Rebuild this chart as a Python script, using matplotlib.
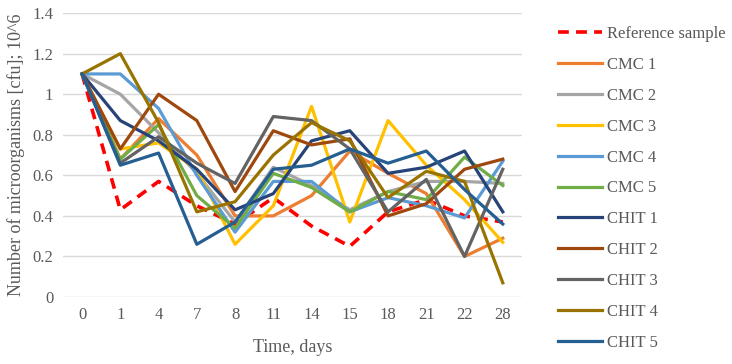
import matplotlib.pyplot as plt
import numpy as np

# dias de amostragem (eixo categórico)
dias = ["0", "1", "4", "7", "8", "11", "14", "15", "18", "21", "22", "28"]

referencia = [1.10, 0.43, 0.57, 0.45, 0.36, 0.49, 0.35, 0.25, 0.42, 0.48, 0.40, 0.37]
cmc1 = [1.10, 0.68, 0.88, 0.70, 0.40, 0.40, 0.50, 0.72, 0.61, 0.51, 0.20, 0.29]
cmc2 = [1.10, 1.00, 0.81, 0.61, 0.37, 0.64, 0.55, 0.43, 0.52, 0.57, 0.57, 0.56]
cmc3 = [1.10, 0.73, 0.76, 0.63, 0.26, 0.45, 0.94, 0.37, 0.87, 0.65, 0.48, 0.27]
cmc4 = [1.10, 1.10, 0.93, 0.60, 0.32, 0.57, 0.57, 0.42, 0.49, 0.45, 0.39, 0.67]
cmc5 = [1.10, 0.68, 0.85, 0.50, 0.34, 0.61, 0.54, 0.42, 0.52, 0.48, 0.69, 0.55]
chit1 = [1.10, 0.87, 0.77, 0.63, 0.43, 0.51, 0.77, 0.82, 0.61, 0.64, 0.72, 0.42]
chit2 = [1.10, 0.73, 1.00, 0.87, 0.52, 0.82, 0.75, 0.78, 0.40, 0.46, 0.63, 0.68]
chit3 = [1.10, 0.66, 0.79, 0.66, 0.56, 0.89, 0.87, 0.73, 0.42, 0.58, 0.20, 0.63]
chit4 = [1.10, 1.20, 0.86, 0.42, 0.47, 0.70, 0.86, 0.77, 0.49, 0.62, 0.57, 0.07]
chit5 = [1.10, 0.65, 0.71, 0.26, 0.37, 0.63, 0.65, 0.73, 0.66, 0.72, 0.53, 0.36]

nomes = ["Reference sample", "CMC 1", "CMC 2", "CMC 3", "CMC 4", "CMC 5",
         "CHIT 1", "CHIT 2", "CHIT 3", "CHIT 4", "CHIT 5"]
series = [referencia, cmc1, cmc2, cmc3, cmc4, cmc5,
          chit1, chit2, chit3, chit4, chit5]
cores = ["#FF0000", "#ED7D31", "#A5A5A5", "#FFC000", "#5B9BD5", "#70AD47",
         "#264478", "#9E480E", "#636363", "#997300", "#255E91"]

plt.rcParams['font.family'] = ['Liberation Serif', 'DejaVu Serif']
cor_texto = "#595959"

fig = plt.figure(figsize=(7.32, 3.64), dpi=100)
ax = fig.add_axes([0.086, 0.184, 0.627, 0.78])

x = np.arange(len(dias))
linhas = []
for nome, valores, cor in zip(nomes, series, cores):
    if nome == "Reference sample":
        l, = ax.plot(x, valores, color=cor, lw=2.6, ls=(0, (3, 2)), label=nome, zorder=1)
    else:
        l, = ax.plot(x, valores, color=cor, lw=2.3, label=nome, zorder=2)
    linhas.append(l)

ax.set_xlim(-0.5, len(dias) - 0.5)
ax.set_ylim(0, 1.4)
ax.set_xticks(x)
ax.set_xticklabels(dias)
ax.set_yticks(np.arange(0, 1.41, 0.2))
ax.set_yticklabels(["0", "0.2", "0.4", "0.6", "0.8", "1", "1.2", "1.4"])
ax.yaxis.grid(True, color="#D9D9D9", lw=1)
ax.set_axisbelow(True)
for s in ax.spines.values():
    s.set_visible(False)
ax.tick_params(length=0, labelsize=12, colors=cor_texto, pad=7)

ax.set_xlabel("Time, days", fontsize=13, color=cor_texto, labelpad=12)
ax.set_ylabel("Number of microorganisms [cfu]; 10^6", fontsize=13, color=cor_texto, labelpad=5)

fig.legend(handles=linhas, loc="upper left", bbox_to_anchor=(0.742, 0.969),
           frameon=False, fontsize=12, handlelength=2.65, handletextpad=0.3,
           labelspacing=0.89, labelcolor=cor_texto)

fig.savefig("out.png", dpi=100)
